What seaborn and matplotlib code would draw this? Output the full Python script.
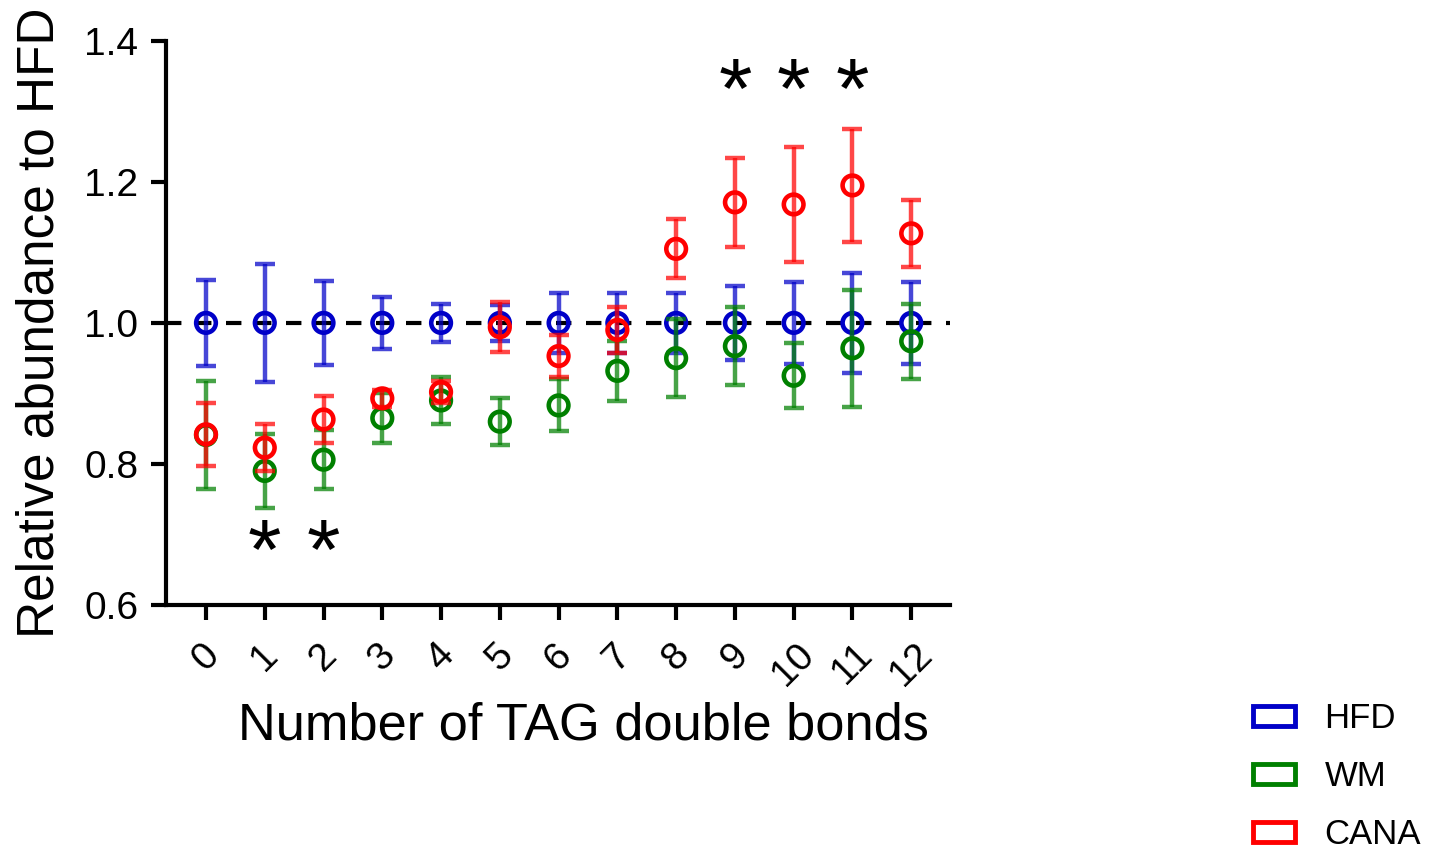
import numpy as np
import pandas as pd
import matplotlib
matplotlib.use("Agg")
import matplotlib.pyplot as plt
import seaborn as sns
from matplotlib.patches import Patch

# 数据
bonds = list(range(13))

hfd_mean = [1.0] * 13
hfd_err = [0.061, 0.084, 0.060, 0.037, 0.027, 0.025, 0.043, 0.043, 0.043, 0.053, 0.058, 0.071, 0.058]

wm_mean = [0.841, 0.790, 0.806, 0.865, 0.890, 0.860, 0.883, 0.932, 0.950, 0.967, 0.925, 0.964, 0.974]
wm_err = [0.076, 0.053, 0.042, 0.035, 0.033, 0.033, 0.037, 0.043, 0.055, 0.055, 0.046, 0.083, 0.053]

cana_mean = [0.842, 0.823, 0.863, 0.893, 0.902, 0.994, 0.953, 0.990, 1.105, 1.171, 1.168, 1.195, 1.127]
cana_err = [0.045, 0.033, 0.033, 0.012, 0.015, 0.035, 0.030, 0.032, 0.042, 0.063, 0.081, 0.080, 0.047]

groups = ["HFD", "WM", "CANA"]
COLORS = {"HFD": "#0000c8", "WM": "#008000", "CANA": "#ff0000"}

# 显著性星号
star_low_x = [1, 2]
star_low_y = 0.696
star_high_x = [9, 10, 11]
star_high_y = 1.351

df = pd.concat([
    pd.DataFrame({"bonds": bonds, "value": hfd_mean, "err": hfd_err, "group": "HFD"}),
    pd.DataFrame({"bonds": bonds, "value": wm_mean, "err": wm_err, "group": "WM"}),
    pd.DataFrame({"bonds": bonds, "value": cana_mean, "err": cana_err, "group": "CANA"}),
], ignore_index=True)

sns.set_style("ticks")
plt.rcParams["font.family"] = ["Liberation Sans", "DejaVu Sans"]
for k in ["text.color", "axes.labelcolor", "xtick.color", "ytick.color", "axes.edgecolor"]:
    plt.rcParams[k] = "black"

fig = plt.figure(figsize=(14.35, 8.52), dpi=100)
ax = fig.add_axes([0.1157, 0.290, 0.5463, 0.662])

ax.axhline(1.0, color="black", lw=3, ls=(0, (3.7, 3.5)), zorder=1)

for i, g in enumerate(groups):
    sub = df[df["group"] == g]
    c = COLORS[g]
    ax.errorbar(sub["bonds"], sub["value"], yerr=sub["err"], fmt="none",
                ecolor=c, elinewidth=3.2, capsize=7, capthick=3.2, alpha=0.72,
                zorder=2 + 2 * i)
    sns.scatterplot(x=sub["bonds"], y=sub["value"], ax=ax, marker="o", s=200,
                    color=c, facecolor="none", edgecolor=c, linewidth=3.3,
                    zorder=3 + 2 * i, legend=False)

star_fs = 62
for xs, ys in [(star_low_x, star_low_y), (star_high_x, star_high_y)]:
    for x in xs:
        ax.annotate("*", (x, ys), xytext=(0, -0.49 * star_fs), textcoords="offset points",
                    ha="center", va="baseline", fontsize=star_fs, zorder=10)

ax.set_xlim(-0.68, 12.66)
ax.set_ylim(0.6, 1.4)
ax.set_xticks(bonds)
ax.set_xticklabels([str(b) for b in bonds], rotation=45, ha="center", fontsize=28)
ax.set_yticks([0.6, 0.8, 1.0, 1.2, 1.4])
ax.set_yticklabels(["0.6", "0.8", "1.0", "1.2", "1.4"], fontsize=28)
ax.tick_params(axis="both", length=11, width=3, color="black")
ax.tick_params(axis="x", pad=12)
ax.tick_params(axis="y", pad=9)
for side in ["left", "bottom"]:
    ax.spines[side].set_linewidth(3)
sns.despine(ax=ax)

ax.set_xlabel("Number of TAG double bonds", fontsize=37.7, labelpad=4)
ax.xaxis.set_label_coords(0.533, -0.172)
ax.set_ylabel("Relative abundance to HFD", fontsize=37, labelpad=14)

handles = [Patch(facecolor="none", edgecolor=COLORS[g], linewidth=3.5, label=g) for g in groups]
fig.legend(handles=handles, loc="lower right", bbox_to_anchor=(1.012, -0.036), frameon=False,
           fontsize=25, handlelength=1.2, handleheight=0.5, labelspacing=0.72,
           handletextpad=0.85)

plt.savefig("out.png", dpi=100)
plt.close()
